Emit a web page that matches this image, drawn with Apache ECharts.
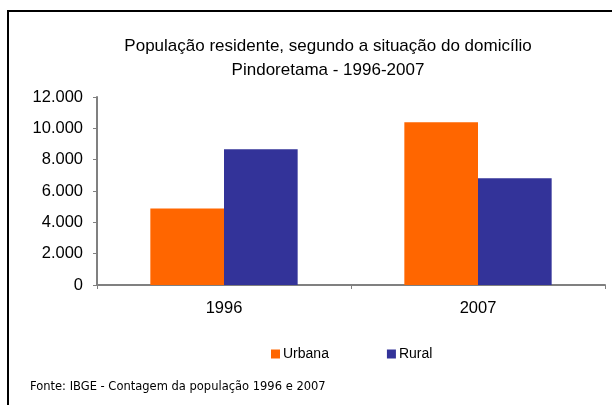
<!DOCTYPE html>
<html>
<head>
<meta charset="utf-8">
<script src="https://cdn.jsdelivr.net/npm/echarts@6/dist/echarts.min.js"></script>
<style>
  html, body { margin: 0; padding: 0; background: #fff; }
  #chart { width: 612px; height: 405px; }
</style>
</head>
<body>
<div id="chart"></div>
<script>
// dados
const anos = ['1996', '2007']
const urbana = [4890, 10390]
const rural = [8660, 6810]
const yTicks = [0, 2000, 4000, 6000, 8000, 10000, 12000]

const fmt = (v) => String(v).replace(/\B(?=(\d{3})+(?!\d))/g, '.')

const chart = echarts.init(document.getElementById('chart'))
chart.setOption({
  animation: false,
  textStyle: { fontFamily: 'Liberation Sans, Arial, sans-serif' },
  title: {
    text: 'População residente, segundo a situação do domicílio\nPindoretama - 1996-2007',
    left: 323,
    top: 29,
    textAlign: 'center',
    textStyle: { fontSize: 17, fontWeight: 'normal', color: '#000', lineHeight: 24 }
  },
  legend: {
    data: ['Urbana', 'Rural'],
    left: 271,
    top: 347,
    padding: 0,
    itemWidth: 9,
    itemHeight: 9,
    itemGap: 58,
    icon: 'rect',
    textStyle: { fontSize: 14, color: '#000', padding: [0, 0, 0, -2] }
  },
  grid: { left: 97, right: 7, top: 97, bottom: 120, containLabel: false },
  xAxis: {
    type: 'category',
    data: anos,
    axisLine: { lineStyle: { color: '#808080', width: 2 } },
    axisTick: { show: true, length: 4, lineStyle: { color: '#808080' } },
    axisLabel: { color: '#000', fontSize: 16.5, margin: 15 }
  },
  yAxis: {
    type: 'value',
    min: yTicks[0],
    max: yTicks[yTicks.length - 1],
    interval: yTicks[1] - yTicks[0],
    axisLine: { show: true, lineStyle: { color: '#808080', width: 2 } },
    axisTick: { show: true, length: 4, lineStyle: { color: '#808080' } },
    splitLine: { show: false },
    axisLabel: { color: '#000', fontSize: 16.5, margin: 14, formatter: fmt }
  },
  series: [
    {
      name: 'Urbana',
      type: 'bar',
      data: urbana,
      barGap: '0%',
      barCategoryGap: '42%',
      itemStyle: { color: '#FF6600' }
    },
    {
      name: 'Rural',
      type: 'bar',
      data: rural,
      itemStyle: { color: '#333399' }
    }
  ],
  graphic: [
    {
      type: 'rect',
      shape: { x: 8, y: 11, width: 700, height: 500 },
      style: { fill: 'none', stroke: '#000', lineWidth: 2 },
      silent: true
    },
    {
      type: 'text',
      left: 30,
      top: 381,
      style: {
        text: 'Fonte: IBGE - Contagem da população 1996 e 2007',
        fontSize: 11.5,
        fontFamily: 'DejaVu Sans',
        fill: '#000'
      }
    }
  ]
})
</script>
</body>
</html>
